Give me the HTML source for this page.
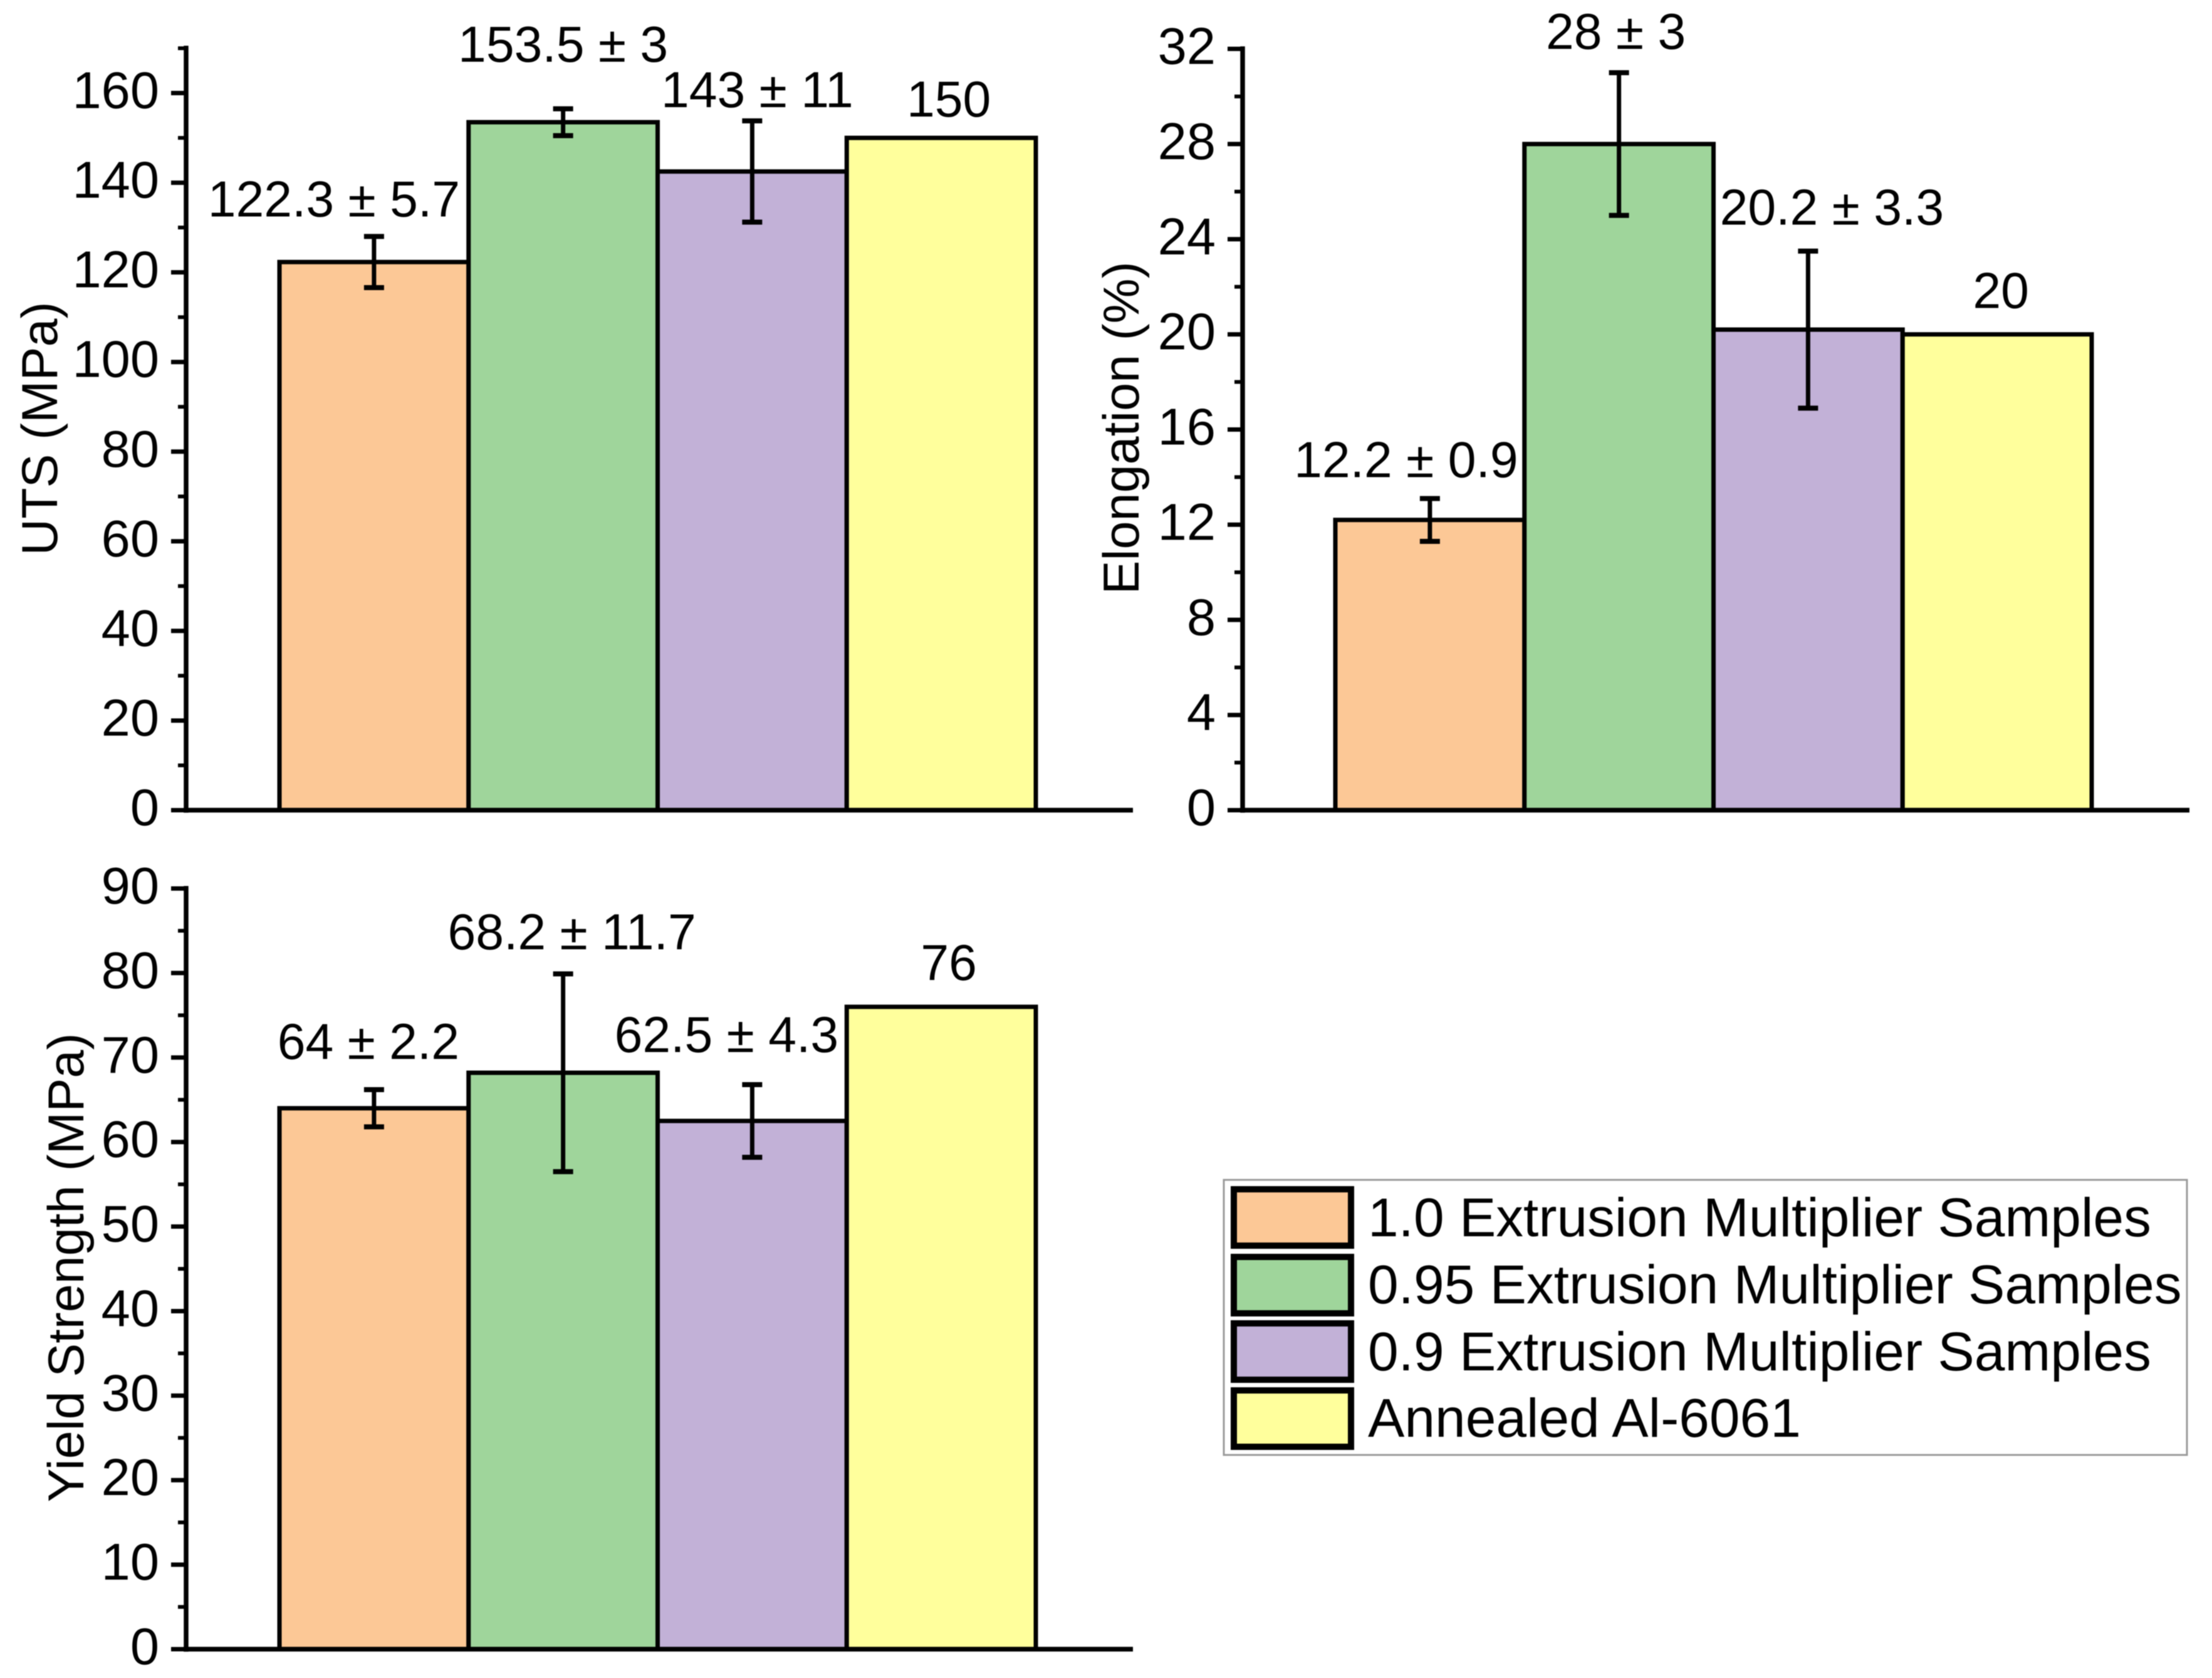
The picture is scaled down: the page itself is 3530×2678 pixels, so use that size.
<!DOCTYPE html>
<html lang="en">
<head>
<meta charset="utf-8">
<title>Tensile properties by extrusion multiplier</title>
<style>
html,body{margin:0;padding:0;background:#fff;width:3530px;height:2678px;overflow:hidden}
svg{display:block;filter:blur(0.8px)}
text{font-family:"Liberation Sans",Arial,sans-serif;fill:#000}
</style>
</head>
<body>
<svg id="figure" xmlns="http://www.w3.org/2000/svg" width="3530" height="2678" viewBox="0 0 3530 2678"></svg>
<script>
var seriesNames = ["1.0 Extrusion Multiplier Samples", "0.95 Extrusion Multiplier Samples", "0.9 Extrusion Multiplier Samples", "Annealed Al-6061"];
var seriesKeys = ["multiplier-1-0", "multiplier-0-95", "multiplier-0-9", "annealed"];
var seriesColors = ["#fcc896", "#9fd59b", "#c2b1d7", "#ffff9c"];

var utsValues = [122.3, 153.5, 142.5, 150];
var utsErrors = [5.7, 3, 11.3, 0];
var utsLabels = ["122.3 \u00B1 5.7", "153.5 \u00B1 3", "143 \u00B1 11", "150"];
var utsMajorTicks = [0, 20, 40, 60, 80, 100, 120, 140, 160];
var utsMinorTicks = [10, 30, 50, 70, 90, 110, 130, 150, 170];

var elongationValues = [12.2, 28, 20.2, 20];
var elongationErrors = [0.9, 3, 3.3, 0];
var elongationLabels = ["12.2 \u00B1 0.9", "28 \u00B1 3", "20.2 \u00B1 3.3", "20"];
var elongationMajorTicks = [0, 4, 8, 12, 16, 20, 24, 28, 32];
var elongationMinorTicks = [2, 6, 10, 14, 18, 22, 26, 30];

var yieldValues = [64, 68.2, 62.5, 76];
var yieldErrors = [2.2, 11.7, 4.3, 0];
var yieldLabels = ["64 \u00B1 2.2", "68.2 \u00B1 11.7", "62.5 \u00B1 4.3", "76"];
var yieldMajorTicks = [0, 10, 20, 30, 40, 50, 60, 70, 80, 90];
var yieldMinorTicks = [5, 15, 25, 35, 45, 55, 65, 75, 85];

var svg = document.getElementById('figure');
var NS = 'http://www.w3.org/2000/svg';

function line(parent, x1, y1, x2, y2, w) {
  var el = document.createElementNS(NS, 'line');
  el.setAttribute('x1', x1);
  el.setAttribute('y1', y1);
  el.setAttribute('x2', x2);
  el.setAttribute('y2', y2);
  el.setAttribute('stroke', '#000');
  el.setAttribute('stroke-width', w);
  parent.appendChild(el);
  return el;
}

function label(parent, x, y, str, size, anchor) {
  var el = document.createElementNS(NS, 'text');
  el.setAttribute('x', x);
  el.setAttribute('y', y);
  el.setAttribute('font-size', size);
  el.setAttribute('text-anchor', anchor);
  el.textContent = str;
  parent.appendChild(el);
  return el;
}

function drawChart(cfg) {
  var g = document.createElementNS(NS, 'g');
  
  
  svg.appendChild(g);

  function yScale(v) {
    return cfg.zeroY - (v / cfg.maxV) * (cfg.zeroY - cfg.topY);
  }

  // bars
  cfg.values.forEach(function (v, i) {
    var x0 = cfg.barLeft + i * cfg.barStep;
    var r = document.createElementNS(NS, 'rect');
    r.setAttribute('x', x0);
    r.setAttribute('y', yScale(v));
    r.setAttribute('width', cfg.barStep);
    r.setAttribute('height', cfg.zeroY - yScale(v));
    r.setAttribute('fill', seriesColors[i]);
    r.setAttribute('stroke', '#000');
    r.setAttribute('stroke-width', 7);
    
    
    g.appendChild(r);
  });

  // error bars
  cfg.values.forEach(function (v, i) {
    var e = cfg.errors[i];
    if (!e) return;
    var xc = cfg.barLeft + (i + 0.5) * cfg.barStep;
    var eg = document.createElementNS(NS, 'g');
    
    
    g.appendChild(eg);
    line(eg, xc, yScale(v + e), xc, yScale(v - e), 7);
    line(eg, xc - 16, yScale(v + e), xc + 16, yScale(v + e), 8);
    line(eg, xc - 16, yScale(v - e), xc + 16, yScale(v - e), 8);
  });

  // value labels
  cfg.labels.forEach(function (str, i) {
    var e = cfg.errors[i];
    var xc = cfg.barLeft + (i + 0.5) * cfg.barStep;
    var t = label(g, xc + cfg.labelShift[i], yScale(cfg.values[i] + e) - cfg.labelGap[i], str, 80.5, 'middle');
    
    
  });

  // axes
  var ya = line(g, cfg.axisX, cfg.topY - 4, cfg.axisX, cfg.zeroY + 4, 7.5);
  
  
  var xa = line(g, cfg.axisX - 4, cfg.zeroY, cfg.axisEnd, cfg.zeroY, 7.5);
  
  

  cfg.major.forEach(function (v) {
    var y = yScale(v);
    var tk = line(g, cfg.axisX - 24, y, cfg.axisX, y, 7);
    
    
    var t = label(g, cfg.axisX - 43, y + 24, String(v), 83, 'end');
    
    
  });
  cfg.minor.forEach(function (v) {
    var y = yScale(v);
    var tk = line(g, cfg.axisX - 13, y, cfg.axisX, y, 6);
    
    
  });

  // axis title
  var title = label(g, 0, 0, cfg.title, 81, 'middle');
  title.setAttribute('transform', 'translate(' + cfg.titleX + ',' + cfg.titleY + ') rotate(-90)');
  
  
}

drawChart({
  name: 'uts', title: 'UTS (MPa)', values: utsValues, errors: utsErrors, labels: utsLabels,
  major: utsMajorTicks, minor: utsMinorTicks, maxV: 170, zeroY: 1293, topY: 77,
  axisX: 297, axisEnd: 1808, barLeft: 446, barStep: 301.75, titleX: 91, titleY: 684,
  labelShift: [-64, 0, 8, 12], labelGap: [32, 75, 22, 34]
});
drawChart({
  name: 'elongation', title: 'Elongation (%)', values: elongationValues, errors: elongationErrors, labels: elongationLabels,
  major: elongationMajorTicks, minor: elongationMinorTicks, maxV: 32, zeroY: 1293, topY: 78,
  axisX: 1983, axisEnd: 3494, barLeft: 2131, barStep: 301.75, titleX: 1817, titleY: 683,
  labelShift: [-38, -5, 38, 6], labelGap: [34, 38, 42, 42]
});
drawChart({
  name: 'yield', title: 'Yield Strength (MPa)', values: yieldValues, errors: yieldErrors, labels: yieldLabels,
  major: yieldMajorTicks, minor: yieldMinorTicks, maxV: 90, zeroY: 2632, topY: 1418,
  axisX: 297, axisEnd: 1808, barLeft: 446, barStep: 301.75, titleX: 133, titleY: 2023,
  labelShift: [-9, 14, -41, 12], labelGap: [49, 39, 52, 43]
});

// legend
var legendRowBaselines = [1973, 2080, 2187, 2293];
var legendSwatchTops = [1898, 2006, 2112, 2219];
var legend = document.createElementNS(NS, 'g');


svg.appendChild(legend);

var frame = document.createElementNS(NS, 'rect');
frame.setAttribute('x', 1953);
frame.setAttribute('y', 1883);
frame.setAttribute('width', 1537);
frame.setAttribute('height', 439);
frame.setAttribute('fill', '#fff');
frame.setAttribute('stroke', '#9a9a9a');
frame.setAttribute('stroke-width', 3);


legend.appendChild(frame);

seriesNames.forEach(function (n, i) {
  var s = document.createElementNS(NS, 'rect');
  s.setAttribute('x', 1969);
  s.setAttribute('y', legendSwatchTops[i]);
  s.setAttribute('width', 187);
  s.setAttribute('height', 90);
  s.setAttribute('fill', seriesColors[i]);
  s.setAttribute('stroke', '#000');
  s.setAttribute('stroke-width', 10);
  
  
  legend.appendChild(s);
  var t = label(legend, 2183, legendRowBaselines[i], n, 87.5, 'start');
  
  
});
</script>
</body>
</html>
